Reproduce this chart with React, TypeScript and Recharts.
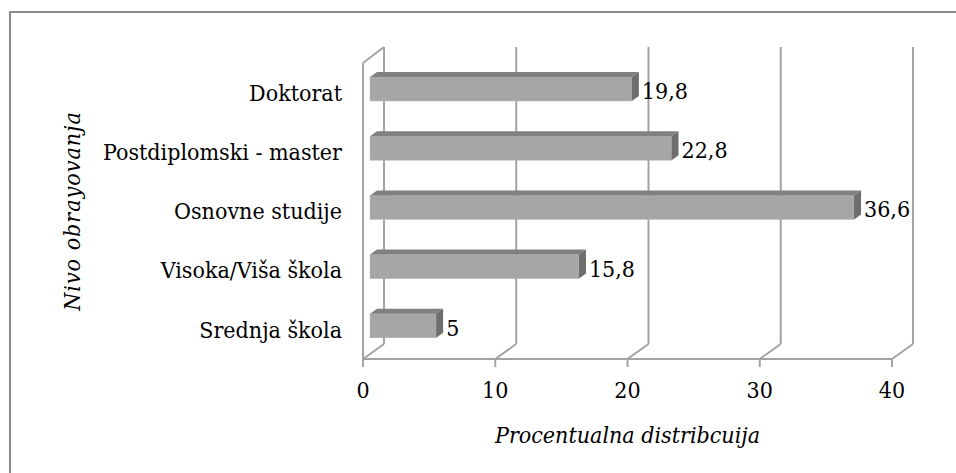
import { BarChart, Bar, XAxis, YAxis, CartesianGrid, LabelList } from 'recharts';

const categories = ['Doktorat', 'Postdiplomski - master', 'Osnovne studije', 'Visoka/Viša škola', 'Srednja škola'];
const values = [19.8, 22.8, 36.6, 15.8, 5];
const xTicks = [0, 10, 20, 30, 40];

const data = categories.map((name, i) => ({ name, value: values[i] }));

// depth of the 3D walls and of the bars (Excel-style perspective)
const WALL_DX = 21;
const WALL_DY = 15;
const BAR_DX = 7;
const BAR_DY = 5;
const GRID = '#a3a3a3';
const FONT = "'DejaVu Serif Condensed', 'DejaVu Serif', serif";
const FS = 23;

const WallLine = (props: any) => {
  const { x1, y1, y2, index } = props;
  return (
    <g key={`wall-${index}`}>
      <line x1={x1 + WALL_DX} y1={y1 - WALL_DY - 1} x2={x1 + WALL_DX} y2={y2 - WALL_DY} stroke={GRID} strokeWidth={2} />
      <line x1={x1} y1={y2} x2={x1 + WALL_DX} y2={y2 - WALL_DY} stroke={GRID} strokeWidth={2} />
      {index === 0 && (
        <>
          <line x1={x1} y1={y1} x2={x1} y2={y2} stroke={GRID} strokeWidth={2} />
          <line x1={x1} y1={y1} x2={x1 + WALL_DX} y2={y1 - WALL_DY - 1} stroke={GRID} strokeWidth={2} />
        </>
      )}
    </g>
  );
};

const Bar3D = (props: any) => {
  const { x, y, width, height } = props;
  const fx = x + BAR_DX;
  const fy = y - 4;
  return (
    <g>
      <rect x={fx} y={fy} width={width} height={height} fill="#a6a6a6" stroke="#b8b8b8" strokeWidth={0.5} />
      <polygon
        points={`${fx},${fy} ${fx + BAR_DX},${fy - BAR_DY} ${fx + BAR_DX + width},${fy - BAR_DY} ${fx + width},${fy}`}
        fill="#808080"
      />
      <polygon
        points={`${fx + width},${fy} ${fx + width + BAR_DX},${fy - BAR_DY} ${fx + width + BAR_DX},${fy - BAR_DY + height} ${fx + width},${fy + height}`}
        fill="#6e6e6e"
      />
    </g>
  );
};

const ValueLabel = (props: any) => {
  const { x, y, width, height, value } = props;
  return (
    <text
      x={x + width + 17}
      y={y + height / 2 - 2}
      dominantBaseline="central"
      fontFamily={FONT}
      fontSize={FS}
      fill="#000"
    >
      {String(value).replace('.', ',')}
    </text>
  );
};

const YTitle = (props: any) => {
  const { viewBox } = props;
  const cx = viewBox.x + 72;
  const cy = viewBox.y + viewBox.height / 2;
  return (
    <text
      x={cx}
      y={cy}
      transform={`rotate(-90 ${cx} ${cy})`}
      textAnchor="middle"
      dominantBaseline="central"
      fontFamily={FONT}
      fontSize={FS}
      fontStyle="italic"
      letterSpacing={1}
      fill="#000"
    >
      Nivo obrayovanja
    </text>
  );
};

export default function App() {
  return (
    <div
      style={{
        position: 'absolute',
        left: 0,
        top: 0,
        width: 956,
        height: 473,
        overflow: 'hidden',
        background: '#fff',
      }}
    >
      <div
        style={{
          position: 'absolute',
          left: 9,
          top: 11,
          width: 960,
          height: 480,
          borderTop: '2px solid #8a8a8a',
          borderLeft: '2px solid #8a8a8a',
        }}
      />
      <div style={{ position: 'absolute', left: 0, top: 0 }}>
        <BarChart
          width={956}
          height={473}
          data={data}
          layout="vertical"
          margin={{ top: 63, right: 64, bottom: 30, left: 0 }}
        >
          <CartesianGrid horizontal={false} vertical={WallLine} />
          <XAxis
            type="number"
            domain={[0, 40]}
            ticks={xTicks}
            height={84}
            axisLine={{ stroke: GRID, strokeWidth: 2 }}
            tickLine={{ stroke: GRID, strokeWidth: 2 }}
            tickSize={8}
            tickMargin={15}
            tick={{ fontFamily: FONT, fontSize: FS, fill: '#000' }}
            label={{
              value: 'Procentualna distribcuija',
              position: 'insideBottom',
              offset: 0,
              fontFamily: FONT,
              fontStyle: 'italic',
              fontSize: FS,
              fill: '#000',
            }}
          />
          <YAxis
            type="category"
            dataKey="name"
            width={363}
            axisLine={false}
            tickLine={false}
            tickSize={0}
            tickMargin={21}
            interval={0}
            tick={{ fontFamily: FONT, fontSize: FS, fill: '#000' }}
            label={<YTitle />}
          />
          <Bar dataKey="value" barSize={24} shape={Bar3D} isAnimationActive={false}>
            <LabelList dataKey="value" content={ValueLabel} />
          </Bar>
        </BarChart>
      </div>
    </div>
  );
}
